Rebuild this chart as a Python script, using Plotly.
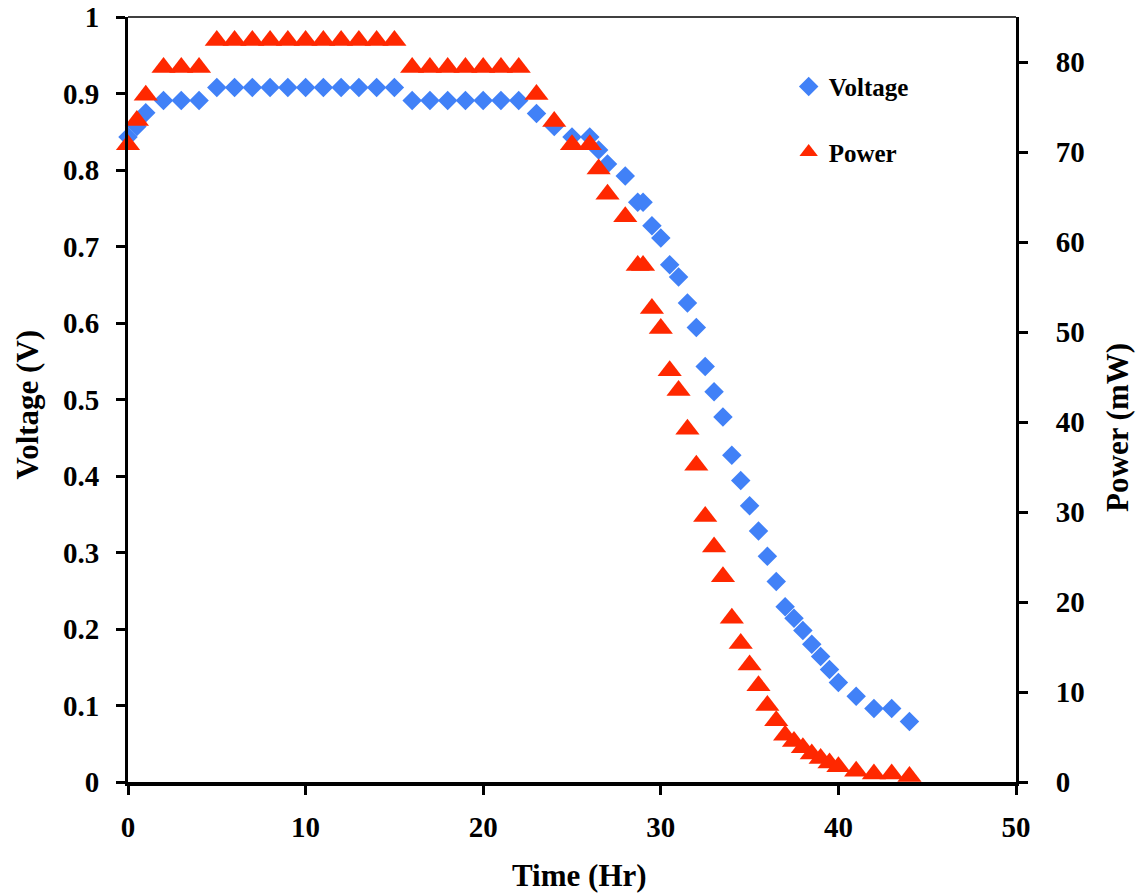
import plotly.graph_objects as go

time_hr = [0, 0.5, 1, 2, 3, 4, 5, 6, 7, 8, 9, 10, 11, 12, 13, 14, 15,
           16, 17, 18, 19, 20, 21, 22, 23, 24, 25, 26, 26.5, 27, 28, 28.7, 29,
           29.5, 30, 30.5, 31, 31.5, 32, 32.5, 33, 33.5, 34, 34.5, 35, 35.5, 36,
           36.5, 37, 37.5, 38, 38.5, 39, 39.5, 40, 41, 42, 43, 44]

voltage_v = [0.843, 0.857, 0.875, 0.891, 0.891, 0.891, 0.908, 0.908, 0.908, 0.908,
             0.908, 0.908, 0.908, 0.908, 0.908, 0.908, 0.908,
             0.891, 0.891, 0.891, 0.891, 0.891, 0.891, 0.891, 0.874, 0.857, 0.843,
             0.843, 0.826, 0.808, 0.792, 0.758, 0.758,
             0.727, 0.711, 0.676, 0.660, 0.626, 0.594, 0.543, 0.510, 0.477, 0.427,
             0.394, 0.361, 0.328, 0.295,
             0.262, 0.229, 0.214, 0.198, 0.180, 0.164, 0.147, 0.130, 0.112, 0.096,
             0.096, 0.079]

power_mw = [70.8, 73.5, 76.3, 79.4, 79.4, 79.4, 82.4, 82.4, 82.4, 82.4,
            82.4, 82.4, 82.4, 82.4, 82.4, 82.4, 82.4,
            79.4, 79.4, 79.4, 79.4, 79.4, 79.4, 79.4, 76.4, 73.4, 70.8,
            70.8, 68.1, 65.3, 62.8, 57.4, 57.4,
            52.6, 50.4, 45.7, 43.5, 39.2, 35.2, 29.5, 26.1, 22.8, 18.2,
            15.4, 13.0, 10.7, 8.5,
            6.8, 5.2, 4.5, 3.8, 3.1, 2.6, 2.1, 1.7, 1.2, 0.9, 0.9, 0.6]

x_ticks = [0, 10, 20, 30, 40, 50]
v_ticks = [0, 0.1, 0.2, 0.3, 0.4, 0.5, 0.6, 0.7, 0.8, 0.9, 1]
v_tick_text = ["0", "0.1", "0.2", "0.3", "0.4", "0.5", "0.6", "0.7", "0.8", "0.9", "1"]
p_ticks = [0, 10, 20, 30, 40, 50, 60, 70, 80]

FONT = "Liberation Serif"
BLUE = "#4181F7"
RED = "#FF2800"

fig = go.Figure()
fig.add_trace(go.Scatter(
    x=time_hr, y=voltage_v, mode="markers", name="Voltage", legendgroup="v",
    marker=dict(symbol="diamond", size=15, color=BLUE, line=dict(width=0)),
    cliponaxis=False, yaxis="y"))
fig.add_trace(go.Scatter(
    x=time_hr, y=power_mw, mode="markers", name="Power", legendgroup="p",
    marker=dict(symbol="triangle-up", size=21, color=RED, line=dict(width=0)),
    cliponaxis=False, yaxis="y2"))

tickfont = dict(family=FONT, size=29, color="black", weight="bold")
titlefont = dict(family=FONT, size=31, color="black", weight="bold")

fig.update_layout(
    width=1138, height=894,
    margin=dict(l=128, r=122, t=17, b=112, autoexpand=False),
    paper_bgcolor="white", plot_bgcolor="white",
    showlegend=True,
    legend=dict(x=0.744, y=0.939, xanchor="left", yanchor="top",
                font=dict(family=FONT, size=25, color="black", weight="bold"),
                bgcolor="rgba(0,0,0,0)", traceorder="grouped",
                tracegroupgap=30, itemwidth=30),
    xaxis=dict(range=[0, 50], tickvals=x_ticks, ticks="outside", ticklen=9,
               tickwidth=3, tickcolor="black", showline=True, linewidth=4,
               linecolor="black", showgrid=False, zeroline=False,
               tickfont=tickfont, ticklabelstandoff=7, automargin=False),
    yaxis=dict(range=[0, 1], tickvals=v_ticks, ticktext=v_tick_text,
               ticks="outside", ticklen=9, tickwidth=3, tickcolor="black",
               showline=True, linewidth=3, linecolor="black", showgrid=False,
               zeroline=False, tickfont=tickfont, ticklabelstandoff=11,
               automargin=False),
    yaxis2=dict(range=[0, 85], tickvals=p_ticks, overlaying="y", side="right",
                ticks="outside", ticklen=9, tickwidth=3, tickcolor="black",
                showline=True, linewidth=3, linecolor="black", showgrid=False,
                zeroline=False, tickfont=tickfont, ticklabelstandoff=22,
                automargin=False),
    shapes=[dict(type="line", xref="paper", yref="paper", x0=0, x1=1, y0=1, y1=1,
                 line=dict(color="black", width=1.5))],
    annotations=[
        dict(text="Time (Hr)", xref="paper", yref="paper", x=0.508, y=-0.1216,
             xanchor="center", yanchor="middle", showarrow=False, font=titlefont),
        dict(text="Voltage (V)", textangle=-90, xref="paper", yref="paper",
             x=-0.1134, y=0.494, xanchor="center", yanchor="middle",
             showarrow=False, font=titlefont),
        dict(text="Power (mW)", textangle=-90, xref="paper", yref="paper",
             x=1.115, y=0.463, xanchor="center", yanchor="middle",
             showarrow=False, font=titlefont),
    ],
)

fig.write_html("out.html", config={"displayModeBar": False},
               post_script="document.body.style.margin='0';document.body.style.overflow='hidden';")
